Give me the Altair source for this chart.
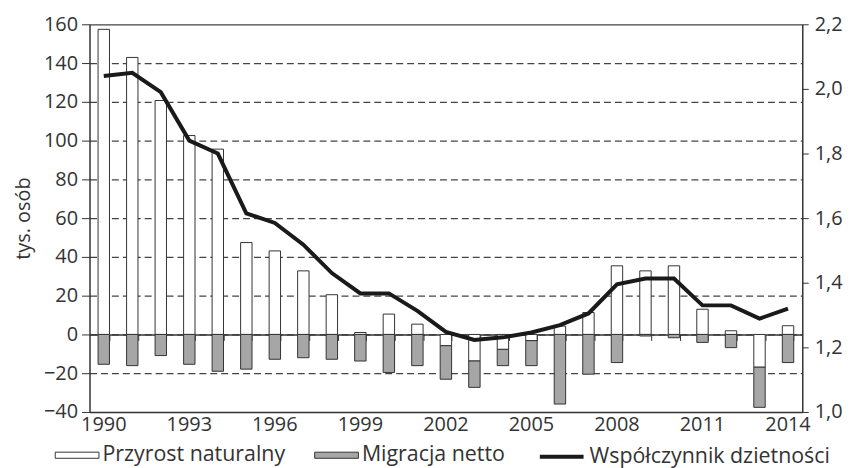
import altair as alt
import pandas as pd

years = list(range(1990, 2015))
natural = [157.4, 142.9, 120.7, 102.6, 95.6, 47.4, 43.1, 32.8, 20.5, 1.0,
           10.5, 5.3, -5.8, -13.7, -7.7, -3.2, 4.3, 11.3, 35.4, 32.8,
           35.4, 13.0, 1.9, -16.9, 4.5]
migration = [-15.4, -16.1, -10.9, -15.4, -19.0, -17.9, -12.8, -12.0, -12.8, -13.7,
             -19.6, -16.1, -17.3, -13.6, -8.4, -12.9, -35.9, -20.5, -14.5, -0.8,
             -1.7, -4.1, -6.8, -20.7, -14.5]
fertility = [2.04, 2.05, 1.99, 1.84, 1.80, 1.615, 1.585, 1.518, 1.43, 1.367,
             1.367, 1.313, 1.248, 1.223, 1.231, 1.246, 1.269, 1.305, 1.395, 1.413,
             1.413, 1.33, 1.33, 1.289, 1.32]
series_names = ["Przyrost naturalny", "Migracja netto"]
line_name = "Współczynnik dzietności"
x_labels = [1990, 1993, 1996, 1999, 2002, 2005, 2008, 2011, 2014]
left_ticks = [-40, -20, 0, 20, 40, 60, 80, 100, 120, 140, 160]
right_ticks = [1.0, 1.2, 1.4, 1.6, 1.8, 2.0, 2.2]

rows = []
for y, n, m in zip(years, natural, migration):
    rows.append({"year": y, "series": series_names[0], "value": n, "ord": 0})
    rows.append({"year": y, "series": series_names[1], "value": m, "ord": 1})
bars_df = pd.DataFrame(rows)
line_df = pd.DataFrame({"year": years, "tfr": fertility, "name": [line_name] * len(years)})
yr_df = pd.DataFrame({"year": years})

W, H = 717, 390
TXT = "#333333"
AX = "#333333"
FS = 20
LFS = 21.5

xscale = alt.Scale(paddingInner=0.6, paddingOuter=0.3)

bars = alt.Chart(bars_df).mark_bar(stroke="#333333", strokeWidth=1).encode(
    x=alt.X("year:O", scale=xscale,
            axis=alt.Axis(values=x_labels, labelAngle=0, ticks=False, title=None,
                          domainColor=AX, domainWidth=1.5, labelFontSize=FS,
                          labelColor=TXT, labelPadding=3, grid=False)),
    y=alt.Y("value:Q", stack="zero",
            scale=alt.Scale(domain=[-40, 160], nice=False),
            axis=alt.Axis(values=left_ticks, title="tys. osób", tickSize=8,
                          tickColor=AX, domainColor=AX, domainWidth=1.5,
                          labelFontSize=FS, labelColor=TXT, labelPadding=4,
                          titleFontSize=FS, titleFontWeight="normal", titleColor=TXT,
                          titlePadding=10, grid=True, gridColor="#444444",
                          gridWidth=1.2,
                          gridDash={"condition": {"test": "datum.value === 160", "value": []},
                                    "value": [7, 4]})),
    fill=alt.Fill("series:N",
                  scale=alt.Scale(domain=series_names, range=["#ffffff", "#a6a6a6"]),
                  legend=alt.Legend(orient="none", legendX=-35, legendY=411,
                                    direction="horizontal", title=None,
                                    symbolType="M-1,-0.14L1,-0.14L1,0.14L-1,0.14Z",
                                    symbolSize=1936, symbolStrokeColor="#333333",
                                    symbolStrokeWidth=1, labelFontSize=LFS,
                                    labelColor=TXT, labelOffset=3, columnPadding=27,
                                    padding=0, labelLimit=400)),
    order=alt.Order("ord:Q"),
)

line = alt.Chart(line_df).mark_line(strokeWidth=4, color="#1a1a1a").encode(
    x=alt.X("year:O", scale=xscale, axis=None),
    y=alt.Y("tfr:Q", scale=alt.Scale(domain=[1.0, 2.2], nice=False, zero=False),
            axis=alt.Axis(orient="right", values=right_ticks, title=None,
                          labelExpr="replace(format(datum.value, '.1f'), '.', ',')",
                          tickSize=6, tickColor=AX, domainColor=AX, domainWidth=1.5,
                          labelFontSize=FS, labelColor=TXT, labelPadding=6, grid=False)),
    stroke=alt.Stroke("name:N", scale=alt.Scale(domain=[line_name], range=["#1a1a1a"]),
                      legend=alt.Legend(orient="none", legendX=451, legendY=411,
                                        title=None, symbolType="stroke",
                                        symbolSize=1936, symbolStrokeWidth=4,
                                        labelFontSize=LFS, labelColor=TXT,
                                        labelOffset=4, padding=0, labelLimit=400)),
)

zero_axis = alt.Chart(yr_df).mark_point(opacity=0).encode(
    x=alt.X("year:O", scale=xscale,
            axis=alt.Axis(orient="bottom", offset=-78, labels=False, ticks=True,
                          tickBand="extent", tickSize=6, tickColor=AX,
                          domain=True, domainColor=AX, domainWidth=1.5,
                          title=None, grid=False)),
)

chart = alt.layer(bars, line, zero_axis).resolve_scale(
    y="independent"
).resolve_axis(
    x="independent"
).properties(width=W, height=H).configure(
    font="Open Sans"
).configure_view(stroke=None)

chart.save("out.html", embed_options={"renderer": "svg", "actions": False})
